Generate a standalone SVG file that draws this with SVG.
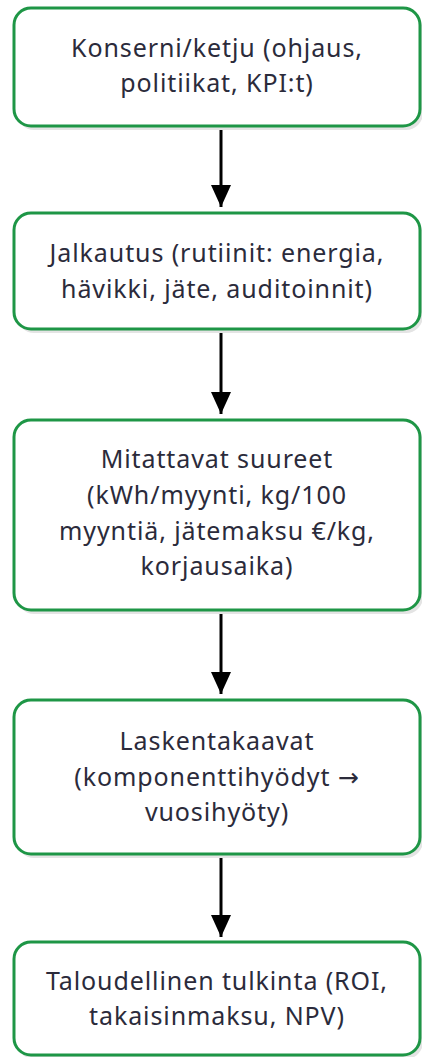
<svg xmlns="http://www.w3.org/2000/svg" width="422" height="1057" viewBox="0 0 422 1057">
  <style>
    .box { fill: #ffffff; stroke: #1e9646; stroke-width: 3; }
    .shadow { fill: #e4e4e4; }
    .label { font-family: "Noto Sans", "DejaVu Sans", sans-serif; font-size: 25px; letter-spacing: 0.9px; fill: #2b2b3b; text-anchor: middle; }
    .edge { stroke: #000000; stroke-width: 3; fill: none; marker-end: url(#arrow); }
  </style>
  <defs>
    <marker id="arrow" viewBox="0 0 22 20" refX="22" refY="10" markerWidth="22" markerHeight="20" markerUnits="userSpaceOnUse" orient="auto">
      <path d="M0,0 L22,10 L0,20 Z" fill="#000000"/>
    </marker>
  </defs>

  <rect width="422" height="1057" fill="#ffffff"/>

  <g id="connectors">
    <line class="edge" x1="221" y1="127" x2="221" y2="207"/>
    <line class="edge" x1="221" y1="331" x2="221" y2="414"/>
    <line class="edge" x1="221" y1="612" x2="221" y2="694"/>
    <line class="edge" x1="221" y1="856" x2="221" y2="937"/>
  </g>

  <g id="node1">
    <rect class="shadow" x="17" y="12" width="406" height="118" rx="17"/>
    <rect class="box" x="14" y="8" width="406" height="118" rx="17"/>
    <text class="label" x="217" y="57">Konserni/ketju (ohjaus,</text>
    <text class="label" x="217" y="92">politiikat, KPI:t)</text>
  </g>

  <g id="node2">
    <rect class="shadow" x="17" y="217" width="406" height="116" rx="17"/>
    <rect class="box" x="14" y="213" width="406" height="116" rx="17"/>
    <text class="label" x="217" y="262">Jalkautus (rutiinit: energia,</text>
    <text class="label" x="217" y="298">hävikki, jäte, auditoinnit)</text>
  </g>

  <g id="node3">
    <rect class="shadow" x="17" y="424" width="406" height="190" rx="17"/>
    <rect class="box" x="14" y="420" width="406" height="190" rx="17"/>
    <text class="label" x="217" y="468">Mitattavat suureet</text>
    <text class="label" x="217" y="504">(kWh/myynti, kg/100</text>
    <text class="label" x="217" y="540">myyntiä, jätemaksu €/kg,</text>
    <text class="label" x="217" y="575">korjausaika)</text>
  </g>

  <g id="node4">
    <rect class="shadow" x="17" y="704" width="406" height="154" rx="17"/>
    <rect class="box" x="14" y="700" width="406" height="154" rx="17"/>
    <text class="label" x="217" y="750">Laskentakaavat</text>
    <text class="label" x="217" y="786">(komponenttihyödyt →</text>
    <text class="label" x="217" y="821">vuosihyöty)</text>
  </g>

  <g id="node5">
    <rect class="shadow" x="17" y="946" width="406" height="113" rx="17"/>
    <rect class="box" x="14" y="942" width="406" height="113" rx="17"/>
    <text class="label" x="217" y="990">Taloudellinen tulkinta (ROI,</text>
    <text class="label" x="217" y="1025">takaisinmaksu, NPV)</text>
  </g>
</svg>
